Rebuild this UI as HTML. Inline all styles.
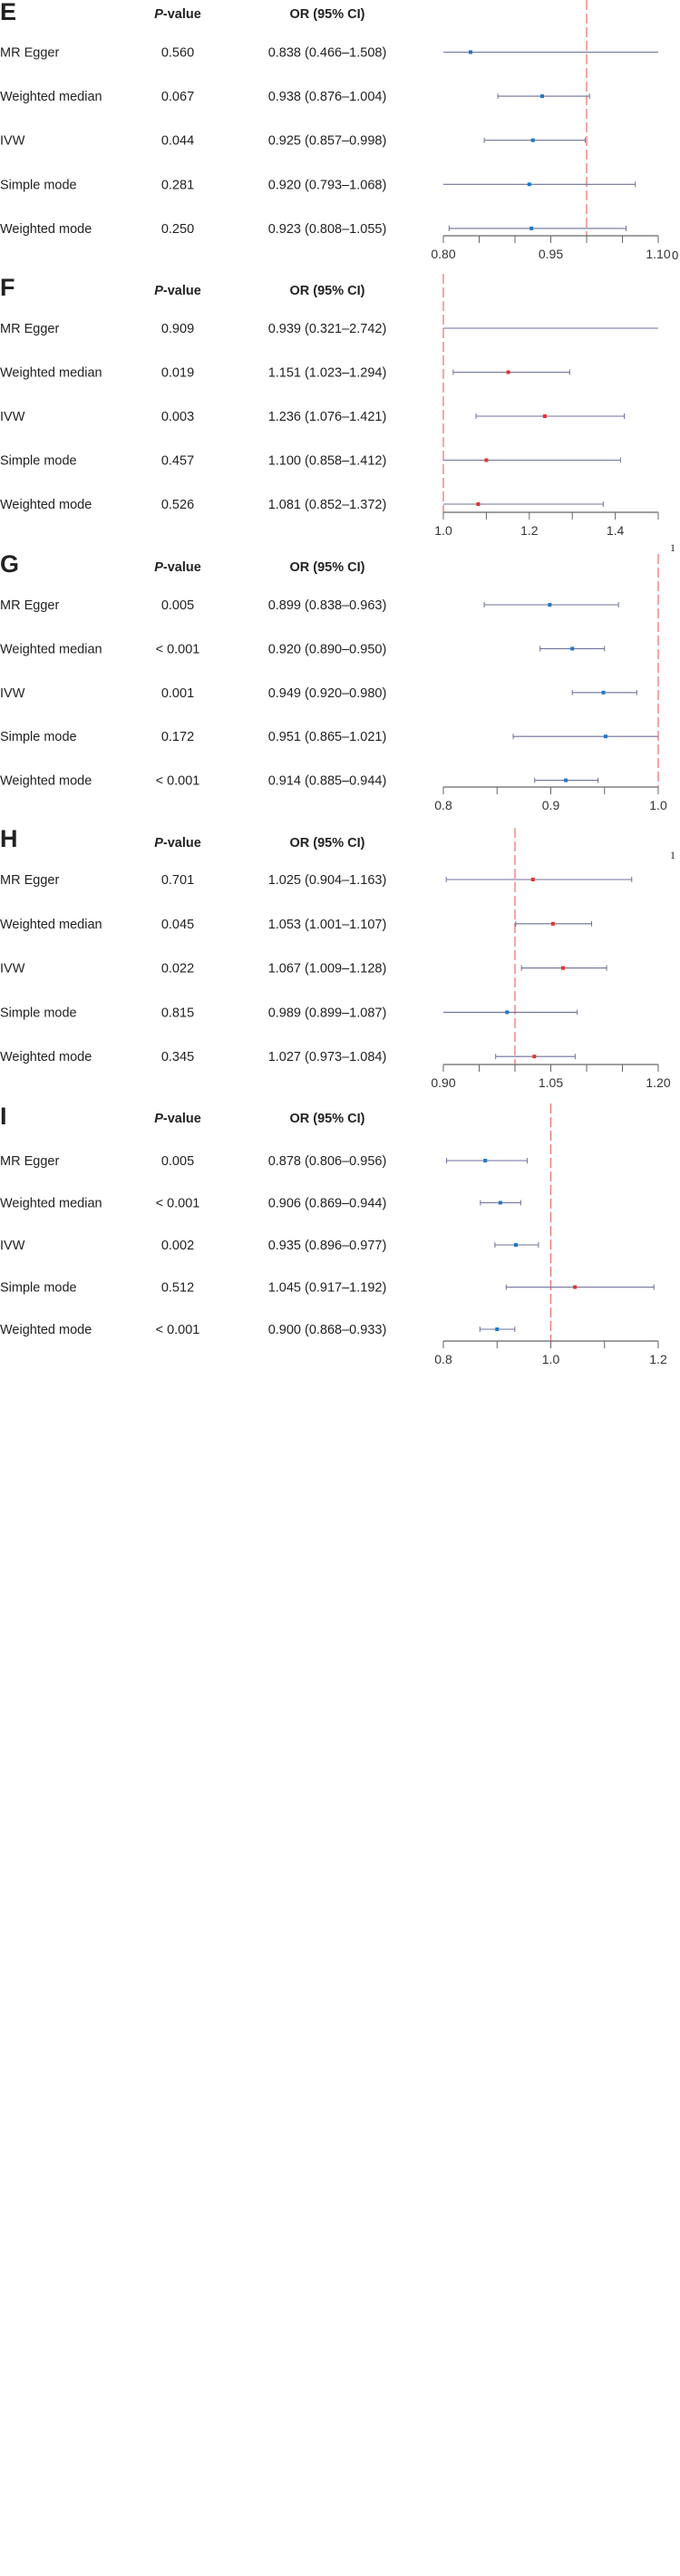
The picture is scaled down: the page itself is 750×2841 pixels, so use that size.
<!DOCTYPE html>
<html><head><meta charset="utf-8"><style>
html,body{margin:0;padding:0;background:#fff;}
body{width:750px;height:2841px;overflow:hidden;position:relative;font-family:"Liberation Sans",sans-serif;}
svg{position:absolute;left:0;top:0;}
</style></head>
<body>
<svg id="chart" width="750" height="2841" viewBox="0 0 750 2841"></svg>
<script>
// ---- data ----
const panelLetters = ["E","F","G","H","I"];
const methods = ["MR Egger","Weighted median","IVW","Simple mode","Weighted mode"];
const pE = ["0.560","0.067","0.044","0.281","0.250"];
const orE = [0.838,0.938,0.925,0.920,0.923];
const loE = [0.466,0.876,0.857,0.793,0.808];
const hiE = [1.508,1.004,0.998,1.068,1.055];
const pF = ["0.909","0.019","0.003","0.457","0.526"];
const orF = [0.939,1.151,1.236,1.100,1.081];
const loF = [0.321,1.023,1.076,0.858,0.852];
const hiF = [2.742,1.294,1.421,1.412,1.372];
const pG = ["0.005","< 0.001","0.001","0.172","< 0.001"];
const orG = [0.899,0.920,0.949,0.951,0.914];
const loG = [0.838,0.890,0.920,0.865,0.885];
const hiG = [0.963,0.950,0.980,1.021,0.944];
const pH = ["0.701","0.045","0.022","0.815","0.345"];
const orH = [1.025,1.053,1.067,0.989,1.027];
const loH = [0.904,1.001,1.009,0.899,0.973];
const hiH = [1.163,1.107,1.128,1.087,1.084];
const pI = ["0.005","< 0.001","0.002","0.512","< 0.001"];
const orI = [0.878,0.906,0.935,1.045,0.900];
const loI = [0.806,0.869,0.896,0.917,0.868];
const hiI = [0.956,0.944,0.977,1.192,0.933];
const domainE = [0.80,1.10], domainF = [1.0,1.5], domainG = [0.8,1.0], domainH = [0.90,1.20], domainI = [0.8,1.2];
const ticksE = [0.80,0.85,0.90,0.95,1.00,1.05,1.10];
const ticksF = [1.0,1.1,1.2,1.3,1.4,1.5];
const ticksG = [0.80,0.85,0.90,0.95,1.00];
const ticksH = [0.90,0.95,1.00,1.05,1.10,1.15,1.20];
const ticksI = [0.8,0.9,1.0,1.1,1.2];
const labelsE = ["0.80","0.95","1.10"], labelValsE = [0.80,0.95,1.10];
const labelsF = ["1.0","1.2","1.4"], labelValsF = [1.0,1.2,1.4];
const labelsG = ["0.8","0.9","1.0"], labelValsG = [0.8,0.9,1.0];
const labelsH = ["0.90","1.05","1.20"], labelValsH = [0.90,1.05,1.20];
const labelsI = ["0.8","1.0","1.2"], labelValsI = [0.8,1.0,1.2];
const nullValue = 1.0;

// ---- layout ----
const X0 = 489, X1 = 726;
const layout = [
  {top:0, letterY:22, headerY:20, row0:57.5, step:48.6, axisY:260},
  {top:302, letterY:326, headerY:325, row0:362, step:48.5, axisY:565},
  {top:611, letterY:631, headerY:630, row0:667, step:48.4, axisY:868},
  {top:913, letterY:934, headerY:934, row0:970, step:48.8, axisY:1174},
  {top:1217, letterY:1240, headerY:1238, row0:1280, step:46.5, axisY:1479}
];
const panels = [
  {p:pE,or:orE,lo:loE,hi:hiE,dom:domainE,ticks:ticksE,labels:labelsE,lv:labelValsE},
  {p:pF,or:orF,lo:loF,hi:hiF,dom:domainF,ticks:ticksF,labels:labelsF,lv:labelValsF},
  {p:pG,or:orG,lo:loG,hi:hiG,dom:domainG,ticks:ticksG,labels:labelsG,lv:labelValsG},
  {p:pH,or:orH,lo:loH,hi:hiH,dom:domainH,ticks:ticksH,labels:labelsH,lv:labelValsH},
  {p:pI,or:orI,lo:loI,hi:hiI,dom:domainI,ticks:ticksI,labels:labelsI,lv:labelValsI}
];
const NS = "http://www.w3.org/2000/svg";
const svg = document.getElementById("chart");
function mk(tag, attrs, parent){
  const el = document.createElementNS(NS, tag);
  for (const k in attrs) el.setAttribute(k, attrs[k]);
  (parent||svg).appendChild(el);
  return el;
}
function txt(x,y,s,size,anchor,weight,parent){
  const t = mk("text",{x:x,y:y,"font-size":size,"text-anchor":anchor||"start","font-weight":weight||"normal",fill:"#222","font-family":"Liberation Sans, sans-serif"},parent);
  t.textContent = s;
  return t;
}
panels.forEach((d,pi)=>{
  const L = layout[pi];
  const g = mk("g",{});
  
  
  const sx = v => X0 + (v - d.dom[0]) / (d.dom[1] - d.dom[0]) * (X1 - X0);
  const lt = txt(0, L.letterY, panelLetters[pi], 27, "start", "bold", g);
  
  
  const ph = mk("text",{x:196,y:L.headerY,"font-size":14.5,"text-anchor":"middle","font-weight":"bold",fill:"#222","font-family":"Liberation Sans, sans-serif"},g);
  
  
  const it = mk("tspan",{"font-style":"italic"},ph); it.textContent = "P";
  const rt = mk("tspan",{},ph); rt.textContent = "-value";
  const oh = txt(361, L.headerY, "OR (95% CI)", 14.5, "middle", "bold", g);
  
  
  // null line
  const nl = mk("line",{x1:sx(nullValue),x2:sx(nullValue),y1:L.top,y2:L.axisY,stroke:"#f06a6a","stroke-width":1.2,"stroke-dasharray":"11 4"},g);
  
  
  methods.forEach((m,i)=>{
    const y = L.row0 + i*L.step;
    const ml = txt(0, y+5, m, 14.5, "start", "normal", g);
    
    
    const pv = txt(196, y+5, d.p[i], 14.5, "middle", "normal", g);
    
    
    const oc = txt(361, y+5, d.or[i].toFixed(3)+" ("+d.lo[i].toFixed(3)+"\u2013"+d.hi[i].toFixed(3)+")", 14.5, "middle", "normal", g);
    
    
    const lo = Math.max(d.lo[i], d.dom[0]), hi = Math.min(d.hi[i], d.dom[1]);
    const ci = mk("line",{x1:sx(lo),x2:sx(hi),y1:y,y2:y,stroke:"#6d7199","stroke-width":1.1},g);
    
    
    if (d.lo[i] >= d.dom[0]) {
      const c1 = mk("line",{x1:sx(d.lo[i]),x2:sx(d.lo[i]),y1:y-3,y2:y+3,stroke:"#6d7199","stroke-width":1},g);
      
      
    }
    if (d.hi[i] <= d.dom[1]) {
      const c2 = mk("line",{x1:sx(d.hi[i]),x2:sx(d.hi[i]),y1:y-3,y2:y+3,stroke:"#6d7199","stroke-width":1},g);
      
      
    }
    if (d.or[i] >= d.dom[0] && d.or[i] <= d.dom[1] && !(pi===1 && i===0)) {
      const pt = mk("rect",{x:sx(d.or[i])-2,y:y-2,width:4,height:4,fill:d.or[i] < 1 ? "#1f78c8" : "#e8302a"},g);
      
      
    }
  });
  const ax = mk("line",{x1:X0,x2:X1,y1:L.axisY,y2:L.axisY,stroke:"#666","stroke-width":1.2},g);
  
  
  d.ticks.forEach(t=>{
    const tk = mk("line",{x1:sx(t),x2:sx(t),y1:L.axisY,y2:L.axisY+8,stroke:"#666","stroke-width":1},g);
    
    
  });
  d.labels.forEach((s,k)=>{
    const tl = txt(sx(d.lv[k]), L.axisY+25, s, 14, "middle", "normal", g);
    tl.setAttribute('fill', '#333');
    
    
  });
});
// stray clipped characters from source image
const s1 = txt(741, 286, "0", 13, "start", "normal");


const s2 = txt(739, 608, "1", 12, "start", "normal");
s2.setAttribute('font-family', 'Liberation Serif, serif');


const s3 = txt(739, 947, "1", 12, "start", "normal");
s3.setAttribute('font-family', 'Liberation Serif, serif');


</script>
</body></html>
